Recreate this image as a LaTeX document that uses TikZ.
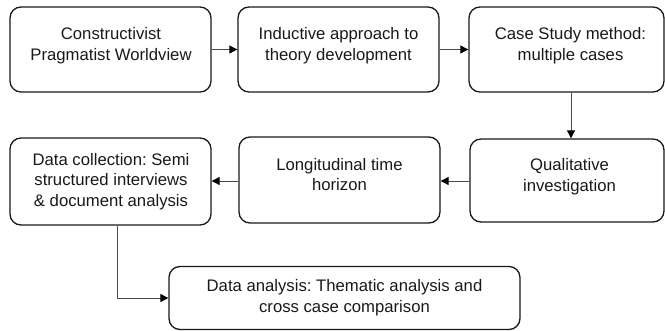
\documentclass[tikz,border=0pt]{standalone}
\usepackage{fontspec}
\setmainfont{Liberation Sans}
\usetikzlibrary{arrows.meta}
\frenchspacing
\begin{document}
\begin{tikzpicture}[x=1pt,y=-1pt,
  box/.style={draw=black!90, line width=1.3pt, rounded corners=11pt, inner sep=0pt},
  txt/.style={align=center, inner sep=0pt, font=\fontsize{16.7}{20.5}\selectfont, text=black!90},
  arr/.style={draw=black!70, line width=0.9pt, -{Triangle[length=8pt,width=8pt,color=black]}}]
\useasboundingbox (0,0) rectangle (665,331);
% boxes
\node[box, minimum width=201pt, minimum height=85pt] (b1) at (110.5,49.5) {};
\node[box, minimum width=201pt, minimum height=85pt] (b2) at (338.5,49.5) {};
\node[box, minimum width=195pt, minimum height=85pt] (b3) at (566.5,49.5) {};
\node[box, minimum width=194pt, minimum height=83pt] (b4) at (567,180.5) {};
\node[box, minimum width=201pt, minimum height=86pt] (b5) at (339.5,180) {};
\node[box, minimum width=201pt, minimum height=87pt] (b6) at (110.5,181.5) {};
\node[box, minimum width=351pt, minimum height=63pt] (b7) at (344.5,298) {};
% texts
\node[txt] (t1) at (111,45.75) {Constructivist\\Pragmatist Worldview};
\node[txt] (t2) at (338.5,45.75) {Inductive approach to\\theory development};
\node[txt] (t3) at (570.5,45.75) {Case Study method:\\multiple cases};
\node[txt] (t4) at (569.5,176.6) {Qualitative\\investigation};
\node[txt] (t5) at (339.5,174.5) {Longitudinal time\\horizon};
\node[txt] (t6) at (111,181.25) {Data collection: Semi\\structured interviews\\\& document analysis};
\node[txt] (t7) at (344.5,297.6) {Data analysis: Thematic analysis and\\cross case comparison};
% helper coordinates
\coordinate (c34) at (571,0);
\coordinate (r2) at (0,181);
\coordinate (c67) at (117,0);
% connectors
\draw[arr] (b1) -- (b2);
\draw[arr] (b2) -- (b3);
\draw[arr] (b3.south -| c34) -- (b4.north -| c34);
\draw[arr] (b4.west |- r2) -- (b5.east |- r2);
\draw[arr] (b5.west |- r2) -- (b6.east |- r2);
\draw[arr, rounded corners=0pt] (b6.south -| c67) |- (b7.west);
\end{tikzpicture}
\end{document}
